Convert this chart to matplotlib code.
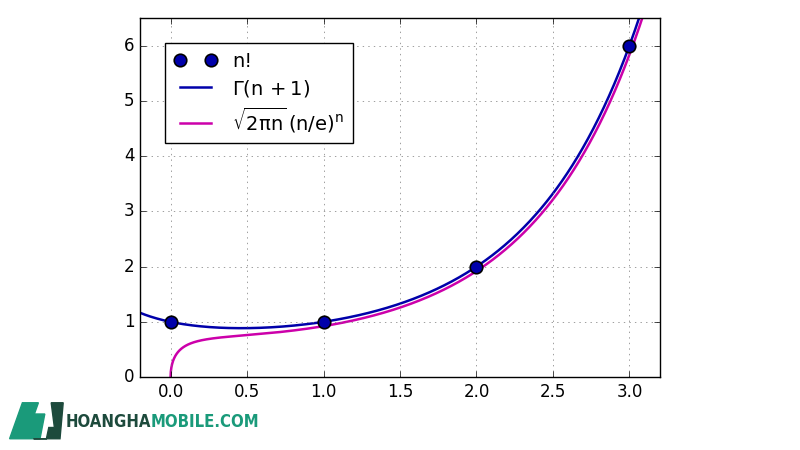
import math
import numpy as np
import matplotlib
matplotlib.use("Agg")
import matplotlib.pyplot as plt
from matplotlib.patches import Polygon

plt.style.use('classic')
plt.rcParams['mathtext.fontset'] = 'dejavusans'

# data
n_points = [0, 1, 2, 3]
fact_vals = [1, 1, 2, 6]
xlim = (-0.2, 3.2)
ylim = (0, 6.5)
xticks = [0.0, 0.5, 1.0, 1.5, 2.0, 2.5, 3.0]
yticks = [0, 1, 2, 3, 4, 5, 6]

x = np.linspace(-0.2, 3.2, 500)
gam = np.array([math.gamma(v + 1) for v in x])
xs = np.linspace(1e-5, 3.2, 2000)
stir = np.sqrt(2 * np.pi * xs) * (xs / np.e) ** xs

fig = plt.figure(figsize=(8, 4.5), dpi=100, facecolor='white')
ax = fig.add_axes([0.175, 0.162, 0.65, 0.798])

ax.plot(n_points, fact_vals, 'o', color='#0000aa', markeredgecolor='black',
        markeredgewidth=1.2, markersize=9, label='n!', zorder=5)
ax.plot(x, gam, color='#0000aa', lw=1.8, label=r'$\Gamma(\mathrm{n}\,+1)$')
ax.plot(xs, stir, color='#cc00aa', lw=1.8,
        label=r'$\sqrt{2\mathrm{πn}}\,(\mathrm{n/e})^\mathrm{n}$')

ax.set_xlim(*xlim)
ax.set_ylim(*ylim)
ax.set_xticks(xticks)
ax.set_yticks(yticks)
ax.grid(True, linestyle=':', color='#777777')
ax.tick_params(labelsize=12)
leg = ax.legend(loc='upper left', numpoints=2, fontsize=14,
                bbox_to_anchor=(0.048, 0.93), borderaxespad=0.0,
                handlelength=2.2, labelspacing=0.35, borderpad=0.45)
leg.get_frame().set_linewidth(1.0)

# watermark logo
fig.patches.append(Polygon([[0.012, 0.025], [0.028, 0.105], [0.048, 0.105],
                            [0.043, 0.08], [0.056, 0.08], [0.05, 0.025]],
                           closed=True, transform=fig.transFigure,
                           color='#1a9a7a'))
fig.patches.append(Polygon([[0.042, 0.025], [0.058, 0.025], [0.061, 0.05],
                            [0.068, 0.05], [0.064, 0.105], [0.079, 0.105],
                            [0.075, 0.025]],
                           closed=True, transform=fig.transFigure,
                           color='#1d4a3c'))
t1 = fig.text(0.082, 0.062, 'HOANGHA', color='#1d4a3c', fontsize=12,
              fontweight='bold', family='DejaVu Sans', fontstretch='condensed',
              va='center')
fig.canvas.draw()
bb = t1.get_window_extent()
fig.text(bb.x1 / fig.bbox.width, 0.062, 'MOBILE.COM', color='#1a9a7a',
         fontsize=12, fontweight='bold', family='DejaVu Sans',
         fontstretch='condensed', va='center')

fig.savefig('out.png', dpi=100, facecolor='white')
